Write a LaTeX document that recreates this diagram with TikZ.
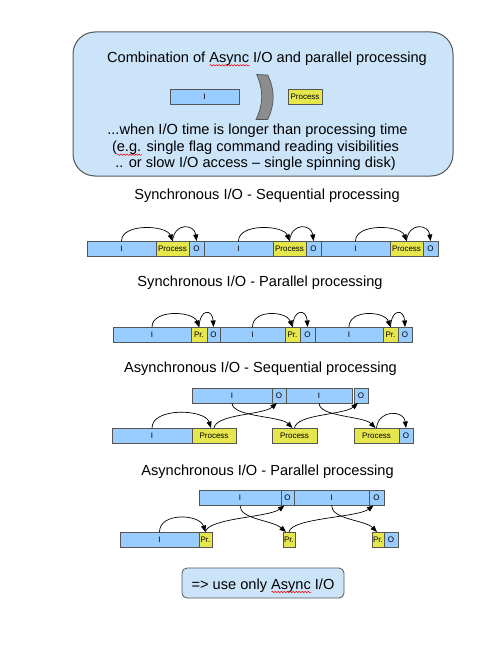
\documentclass[tikz,border=0pt]{standalone}
\usepackage{fontspec}
\setmainfont{Liberation Sans}
\usetikzlibrary{arrows.meta,calc,decorations.pathmorphing}
\definecolor{boxblue}{HTML}{99CCFF}
\definecolor{boxyellow}{HTML}{E6E64D}
\definecolor{panelblue}{HTML}{CCE4FA}
\definecolor{edge}{HTML}{555555}
\definecolor{chev}{HTML}{8C8C8C}
\newcommand\wavyunder[3]{%
  \node[ttl, anchor=base west] (#1pre) at (#1.base west) {\phantom{#2\hbox{}}};
  \node[ttl, anchor=base west] (#1w) at (#1pre.base east) {\phantom{#3}};
  \draw[wave] ([yshift=-3pt]#1w.base west) -- ([yshift=-3pt]#1w.base east);
}
\begin{document}
\begin{tikzpicture}[x=1pt,y=-1pt,
  ibox/.style={draw=edge, fill=boxblue, line width=0.8pt, minimum height=15pt, inner sep=0pt, outer sep=0pt, anchor=west, font=\fontsize{8}{9}\selectfont},
  pbox/.style={ibox, fill=boxyellow},
  arr/.style={-{Triangle[length=6.5pt,width=5pt]}, line width=0.7pt},
  ttl/.style={anchor=base, font=\fontsize{14.6}{17}\selectfont, inner sep=0pt},
  wave/.style={red, line width=0.5pt, decorate, decoration={snake, segment length=3pt, amplitude=0.7pt}},
]
\fill[white] (0,0) rectangle (500,647);
\useasboundingbox (0,0) rectangle (500,647);

% ---------- top panel ----------
\node[draw=edge, fill=panelblue, line width=1pt, rounded corners=22pt, minimum width=380pt, minimum height=144pt, inner sep=0pt] (panel) at (263,104) {};
\node[ttl] (ptitle) at (267,62.3) {Combination of Async I/O and parallel processing};
\wavyunder{ptitle}{Combination of }{Async}
\node[ibox, minimum width=69pt] (pi) at (170,96.5) {I};
\node[pbox, minimum width=34pt] (pp) at (288,96.5) {Process};
\draw[edge, fill=chev, line width=0.7pt] (256.7,74.5) -- (267.7,75) .. controls (275,90) and (275,104) .. (267.7,119.5) -- (256,119.5) .. controls (263.5,104) and (263.5,90) .. cycle;
\node[ttl] (pl1) at (257.5,135) {...when I/O time is longer than processing time};
\node[ttl] (pl2) at (255.5,151.7) {(e.g. single flag command reading visibilities};
\wavyunder{pl2}{(}{e.g.}
\node[ttl] (pl3) at (255.5,167.7) {.. or slow I/O access -- single spinning disk)};

% ---------- row 1 ----------
\node[ttl] (t1) at (267,199.5) {Synchronous I/O - Sequential processing};
\node[ibox, minimum width=69pt] (a1) at (87,248.5) {I};
\node[pbox, minimum width=33pt] (a2) at (a1.east) {Process};
\node[ibox, minimum width=15pt] (a3) at (a2.east) {O};
\node[ibox, minimum width=69pt] (a4) at (a3.east) {I};
\node[pbox, minimum width=33pt] (a5) at (a4.east) {Process};
\node[ibox, minimum width=15pt] (a6) at (a5.east) {O};
\node[ibox, minimum width=69pt] (a7) at (a6.east) {I};
\node[pbox, minimum width=33pt] (a8) at (a7.east) {Process};
\node[ibox, minimum width=15pt] (a9) at (a8.east) {O};
\foreach \i/\p/\o in {a1/a2/a3,a4/a5/a6,a7/a8/a9}{
  \draw[arr] (\i.north) .. controls +(0,-18) and +(-6,-16) .. (\p.north);
  \draw[arr] (\p.north) .. controls +(2,-19) and +(-2,-17) .. (\o.north);
}

% ---------- row 2 ----------
\node[ttl] (t2) at (260,286) {Synchronous I/O - Parallel processing};
\node[ibox, minimum width=78pt] (b1) at (113,334.5) {I};
\node[pbox, minimum width=16pt] (b2) at (b1.east) {Pr.};
\node[ibox, minimum width=13pt] (b3) at (b2.east) {O};
\node[ibox, minimum width=65pt] (b4) at (b3.east) {I};
\node[pbox, minimum width=15pt] (b5) at (b4.east) {Pr.};
\node[ibox, minimum width=15pt] (b6) at (b5.east) {O};
\node[ibox, minimum width=68pt] (b7) at (b6.east) {I};
\node[pbox, minimum width=15pt] (b8) at (b7.east) {Pr.};
\node[ibox, minimum width=14pt] (b9) at (b8.east) {O};
\foreach \i/\p/\o in {b1/b2/b3,b4/b5/b6,b7/b8/b9}{
  \draw[arr] (\i.north) .. controls +(0,-18) and +(-6,-16) .. (\p.north);
  \draw[arr] (\p.north) .. controls +(1,-19) and +(-1,-18) .. (\o.north);
}

% ---------- row 3 ----------
\node[ttl] (t3) at (260.5,372) {Asynchronous I/O - Sequential processing};
\node[ibox, minimum width=80pt] (c1) at (192,395.5) {I};
\node[ibox, minimum width=14pt] (c2) at (c1.east) {O};
\node[ibox, minimum width=66pt] (c3) at (c2.east) {I};
\node[ibox, minimum width=14pt] (c4) at (354,395.5) {O};
\node[ibox, minimum width=80pt] (d1) at (112,435.5) {I};
\node[pbox, minimum width=44pt] (d2) at (d1.east) {Process};
\node[pbox, minimum width=45pt] (d3) at (272,435.5) {Process};
\node[pbox, minimum width=45pt] (d4) at (354,435.5) {Process};
\node[ibox, minimum width=14pt] (d5) at (d4.east) {O};
\draw[arr] (d1.north) .. controls +(0,-21) and +(-6,-19) .. ([xshift=-3pt]d2.north);
\draw[arr] (d2.north) .. controls +(2,-14) and +(-14,12) .. ([xshift=-2pt]c2.south);
\draw[arr] (c1.south) .. controls +(0,14) and +(-12,-12) .. ([xshift=-2pt]d3.north);
\draw[arr] (d3.north) .. controls +(2,-14) and +(-14,12) .. ([xshift=-3pt]c4.south);
\draw[arr] (c3.south) .. controls +(0,14) and +(-12,-12) .. ([xshift=-1pt]d4.north);
\draw[arr] (d4.north) .. controls +(2,-19) and +(-2,-18) .. (d5.north);

% ---------- row 4 ----------
\node[ttl] (t4) at (267.5,475.5) {Asynchronous I/O - Parallel processing};
\node[ibox, minimum width=82pt] (e1) at (199,498) {I};
\node[ibox, minimum width=13pt] (e2) at (e1.east) {O};
\node[ibox, minimum width=75pt] (e3) at (e2.east) {I};
\node[ibox, minimum width=15pt] (e4) at (e3.east) {O};
\node[ibox, minimum width=79pt] (f1) at (120,539.5) {I};
\node[pbox, minimum width=13pt] (f2) at (f1.east) {Pr.};
\node[pbox, minimum width=12pt] (f3) at (283,539.5) {Pr.};
\node[pbox, minimum width=12pt] (f4) at (372,539.5) {Pr.};
\node[ibox, minimum width=14pt] (f5) at (f4.east) {O};
\draw[arr] (f1.north) .. controls +(0,-20) and +(-6,-18) .. (f2.north);
\draw[arr] (f2.north) .. controls +(2,-14) and +(-16,12) .. ([xshift=-3pt]e2.south);
\draw[arr] (e1.south) .. controls +(0,14) and +(-14,-12) .. ([xshift=-3pt]f3.north);
\draw[arr] (f3.north) .. controls +(2,-14) and +(-16,12) .. ([xshift=-3pt]e4.south);
\draw[arr] (e3.south) .. controls +(0,14) and +(-12,-12) .. ([xshift=-1pt]f4.north);

% ---------- conclusion ----------
\node[draw=edge, fill=panelblue, line width=0.8pt, rounded corners=5pt, minimum width=162pt, minimum height=30pt, inner sep=0pt] (concl) at (263,583) {};
\node[ttl] (concltext) at (263,589) {=> use only Async I/O};
\wavyunder{concltext}{=> use only }{Async}
\end{tikzpicture}
\end{document}
